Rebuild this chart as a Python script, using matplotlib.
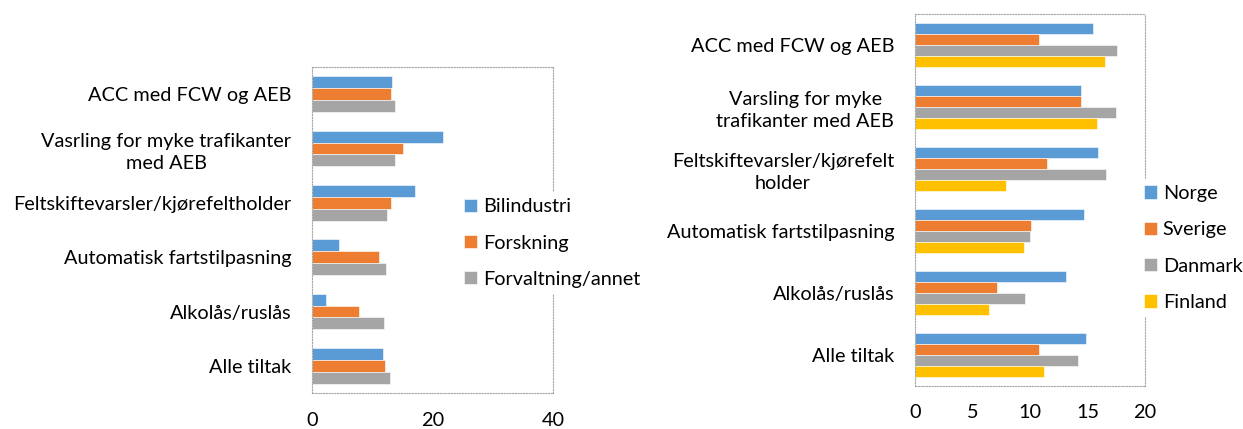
import matplotlib
matplotlib.use("Agg")
import matplotlib.pyplot as plt
import numpy as np

plt.rcParams['font.family'] = ['Lato', 'DejaVu Sans']
plt.rcParams['font.size'] = 14.3

# Left chart: by respondent group
left_cats = ["ACC med FCW og AEB",
             "Vasrling for myke trafikanter\nmed AEB",
             "Feltskiftevarsler/kjørefeltholder",
             "Automatisk fartstilpasning",
             "Alkolås/ruslås",
             "Alle tiltak"]
bilindustri = [13.3, 21.7, 17.1, 4.4, 2.4, 11.8]
forskning = [13.1, 15.1, 13.1, 11.2, 7.8, 12.1]
forvaltning = [13.8, 13.7, 12.4, 12.3, 11.9, 13.0]
left_names = ["Bilindustri", "Forskning", "Forvaltning/annet"]
left_ticks = [0, 20, 40]

# Right chart: by country
right_cats = ["ACC med FCW og AEB",
              "Varsling for myke\ntrafikanter med AEB",
              "Feltskiftevarsler/kjørefelt\nholder",
              "Automatisk fartstilpasning",
              "Alkolås/ruslås",
              "Alle tiltak"]
norge = [15.5, 14.4, 15.9, 14.7, 13.1, 14.9]
sverige = [10.8, 14.4, 11.5, 10.1, 7.1, 10.8]
danmark = [17.6, 17.5, 16.6, 10.0, 9.6, 14.2]
finland = [16.5, 15.8, 7.9, 9.5, 6.4, 11.2]
right_names = ["Norge", "Sverige", "Danmark", "Finland"]
right_ticks = [0, 5, 10, 15, 20]

colors = ['#5B9BD5', '#ED7D31', '#A5A5A5', '#FFC000']


def draw(ax, cats, series, names, ticks, bar_h, legend_pos, xpad):
    y = np.arange(len(cats))
    n = len(series)
    for i, (vals, name) in enumerate(zip(series, names)):
        offs = (i - (n - 1) / 2) * bar_h
        ax.barh(y + offs, vals, height=bar_h, color=colors[i], label=name,
                edgecolor='white', linewidth=0.4)
    ax.set_yticks(y)
    ax.set_yticklabels(cats, multialignment='center', linespacing=1.35)
    ax.set_ylim(len(cats) - 0.5, -0.5)
    ax.set_xlim(ticks[0], ticks[-1])
    ax.set_xticks(ticks)
    ax.tick_params(length=0, labelsize=14.3)
    ax.tick_params(axis='y', pad=15)
    ax.tick_params(axis='x', pad=xpad)
    for sp in ax.spines.values():
        sp.set_linestyle((0, (1, 1.5)))
        sp.set_color('#A6A6A6')
        sp.set_linewidth(0.8)
    leg = ax.legend(loc='center left', bbox_to_anchor=legend_pos,
                    bbox_transform=ax.figure.transFigure, frameon=True,
                    facecolor='white', edgecolor='none', framealpha=1,
                    handlelength=0.65, handleheight=0.65, handletextpad=0.3,
                    labelspacing=0.97, borderaxespad=0, borderpad=0.3,
                    fontsize=14.3)
    leg.set_zorder(10)


fig = plt.figure(figsize=(12.43, 4.29), dpi=100)
W, H = 1243, 429

ax1 = fig.add_axes([312 / W, 1 - 393 / H, 241 / W, 326 / H])
draw(ax1, left_cats, [bilindustri, forskning, forvaltning], left_names,
     left_ticks, 0.22, (458 / W, 1 - 243 / H), 14)

ax2 = fig.add_axes([915 / W, 1 - 386 / H, 230 / W, 372 / H])
draw(ax2, right_cats, [norge, sverige, danmark, finland], right_names,
     right_ticks, 0.18, (1138 / W, 1 - 248 / H), 13)

fig.savefig("out.png", dpi=100)
